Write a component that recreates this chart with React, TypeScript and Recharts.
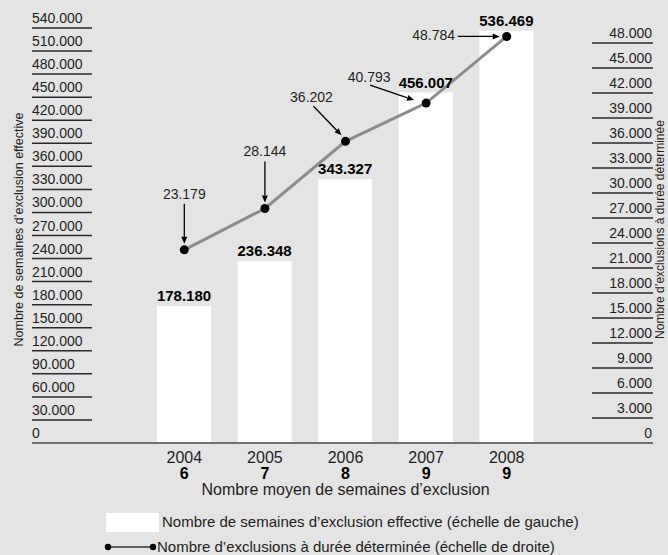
import { ComposedChart, Bar, Line, XAxis, YAxis, LabelList } from 'recharts';

const years = ['2004', '2005', '2006', '2007', '2008'];
const avgWeeks = [6, 7, 8, 9, 9];
const weeksExcluded = [178180, 236348, 343327, 456007, 536469];
const fixedTermExclusions = [23179, 28144, 36202, 40793, 48784];

const leftTicks = [
  0, 30000, 60000, 90000, 120000, 150000, 180000, 210000, 240000, 270000,
  300000, 330000, 360000, 390000, 420000, 450000, 480000, 510000, 540000,
];
const rightTicks = [
  0, 3000, 6000, 9000, 12000, 15000, 18000, 21000, 24000, 27000, 30000,
  33000, 36000, 39000, 42000, 45000, 48000,
];

const data = years.map((year, i) => ({
  year,
  avg: avgWeeks[i],
  weeks: weeksExcluded[i],
  exclusions: fixedTermExclusions[i],
}));

// callout placement relative to each line point (label centre/baseline, arrow start -> tip)
const CALLOUTS = [
  { lx: 0, ly: -51, x1: 0, y1: -46, x2: 0, y2: -6 },
  { lx: 0, ly: -52, x1: 0, y1: -47, x2: 0, y2: -6 },
  { lx: -34, ly: -39, x1: -32, y1: -35, x2: -4, y2: -6 },
  { lx: -57, ly: -21, x1: -56, y1: -18, x2: -12, y2: -3 },
  { lx: -73, ly: 4, x1: -49, y1: 0, x2: -7, y2: 0 },
];

const FONT = '"Liberation Sans", Arial, sans-serif';
const BG = '#e3e4e3';
const TEXT = '#1e1e1e';
const PLOT_LEFT = 32;
const PLOT_RIGHT = 653;

/** 540000 -> "540.000" */
function fmt(n: number): string {
  return String(n).replace(/\B(?=(\d{3})+(?!\d))/g, '.');
}

function LeftTick({ y, payload }: any) {
  return (
    <g>
      <text x={PLOT_LEFT} y={y - 5} fontSize={14} fill={TEXT} fontFamily={FONT}>
        {fmt(payload.value)}
      </text>
      {payload.value > 0 && (
        <line x1={PLOT_LEFT} x2={PLOT_LEFT + 60} y1={y} y2={y} stroke="#2a2a2a" strokeWidth={1.5} />
      )}
    </g>
  );
}

function RightTick({ y, payload }: any) {
  return (
    <g>
      <text x={PLOT_RIGHT - 1} y={y - 5} fontSize={14} fill={TEXT} fontFamily={FONT} textAnchor="end">
        {fmt(payload.value)}
      </text>
      {payload.value > 0 && (
        <line x1={PLOT_RIGHT - 61} x2={PLOT_RIGHT} y1={y} y2={y} stroke="#2a2a2a" strokeWidth={1.5} />
      )}
    </g>
  );
}

function YearTick({ x, y, payload, index }: any) {
  return (
    <g>
      <text x={x} y={y + 20} textAnchor="middle" fontSize={16} fill={TEXT} fontFamily={FONT}>
        {payload.value}
      </text>
      <text x={x} y={y + 36} textAnchor="middle" fontSize={16} fontWeight="bold" fill="#000" fontFamily={FONT}>
        {avgWeeks[index]}
      </text>
    </g>
  );
}

function Callout(props: any) {
  const { x, y, value, index } = props;
  const c = CALLOUTS[index];
  if (!c) return null;
  const ax = x + c.x1;
  const ay = y + c.y1;
  const tx = x + c.x2;
  const ty = y + c.y2;
  const len = Math.hypot(tx - ax, ty - ay) || 1;
  const ux = (tx - ax) / len;
  const uy = (ty - ay) / len;
  const hl = 7;
  const hw = 3;
  const bx = tx - ux * hl;
  const by = ty - uy * hl;
  const head = `${tx},${ty} ${bx - uy * hw},${by + ux * hw} ${bx + uy * hw},${by - ux * hw}`;
  return (
    <g>
      <text x={x + c.lx} y={y + c.ly} textAnchor="middle" fontSize={14} fill={TEXT} fontFamily={FONT}>
        {fmt(value)}
      </text>
      <line x1={ax} y1={ay} x2={bx} y2={by} stroke="#000" strokeWidth={1.3} />
      <polygon points={head} fill="#000" />
    </g>
  );
}

export default function App() {
  return (
    <div
      style={{
        position: 'absolute',
        left: 0,
        top: 0,
        width: 668,
        height: 555,
        background: BG,
        fontFamily: FONT,
        overflow: 'hidden',
      }}
    >
      <ComposedChart
        width={668}
        height={555}
        data={data}
        margin={{ top: 28, right: 14, left: 31, bottom: 82 }}
      >
        <XAxis
          dataKey="year"
          height={30}
          interval={0}
          tickSize={0}
          tickMargin={0}
          tickLine={false}
          axisLine={{ stroke: '#707070', strokeWidth: 2 }}
          padding={{ left: 112, right: 106 }}
          tick={<YearTick />}
          label={({ viewBox }: any) => (
            <text
              x={viewBox.x + viewBox.width / 2 + 3}
              y={viewBox.y + 52}
              textAnchor="middle"
              fontSize={16}
              fill={TEXT}
              fontFamily={FONT}
            >
              Nombre moyen de semaines d’exclusion
            </text>
          )}
        />
        <YAxis
          yAxisId="left"
          width={1}
          domain={[0, 540000]}
          ticks={leftTicks}
          interval={0}
          axisLine={false}
          tickLine={false}
          tick={<LeftTick />}
          label={({ viewBox }: any) => {
            const cx = viewBox.x - 12;
            const cy = viewBox.y + viewBox.height / 2 - 6;
            return (
              <text
                x={cx}
                y={cy}
                transform={`rotate(-90 ${cx} ${cy})`}
                textAnchor="middle"
                dominantBaseline="central"
                fontSize={12.5}
                fill={TEXT}
                fontFamily={FONT}
              >
                Nombre de semaines d’exclusion effective
              </text>
            );
          }}
        />
        <YAxis
          yAxisId="right"
          orientation="right"
          width={1}
          domain={[0, 49800]}
          ticks={rightTicks}
          interval={0}
          axisLine={false}
          tickLine={false}
          tick={<RightTick />}
          label={({ viewBox }: any) => {
            const cx = viewBox.x + 7;
            const cy = viewBox.y + viewBox.height / 2 - 6;
            return (
              <text
                x={cx}
                y={cy}
                transform={`rotate(-90 ${cx} ${cy})`}
                textAnchor="middle"
                dominantBaseline="central"
                fontSize={12}
                fill={TEXT}
                fontFamily={FONT}
              >
                Nombre d’exclusions à durée déterminée
              </text>
            );
          }}
        />
        <Bar yAxisId="left" dataKey="weeks" fill="#ffffff" barSize={54} isAnimationActive={false}>
          <LabelList
            dataKey="weeks"
            position="top"
            offset={5}
            formatter={(v: any) => fmt(v)}
            style={{ fontSize: 15, fontWeight: 'bold', fill: '#000', fontFamily: FONT }}
          />
        </Bar>
        <Line
          yAxisId="right"
          dataKey="exclusions"
          stroke="#8c8c8c"
          strokeWidth={3}
          dot={{ r: 4.5, fill: '#000', stroke: 'none' }}
          activeDot={false}
          isAnimationActive={false}
        >
          <LabelList dataKey="exclusions" content={<Callout />} />
        </Line>
      </ComposedChart>

      {/* legend */}
      <div style={{ position: 'absolute', left: 106, top: 513, width: 53, height: 19, background: '#fff' }} />
      <div
        style={{
          position: 'absolute',
          left: 162,
          top: 512,
          fontSize: 15,
          lineHeight: '20px',
          color: TEXT,
          whiteSpace: 'nowrap',
        }}
      >
        Nombre de semaines d’exclusion effective (échelle de gauche)
      </div>
      <svg style={{ position: 'absolute', left: 100, top: 538 }} width={60} height={18}>
        <line x1={8} x2={53} y1={9} y2={9} stroke="#333" strokeWidth={1.5} />
        <circle cx={8} cy={9} r={3.2} fill="#000" />
        <circle cx={53} cy={9} r={3.2} fill="#000" />
      </svg>
      <div
        style={{
          position: 'absolute',
          left: 157,
          top: 537,
          fontSize: 15,
          lineHeight: '20px',
          color: TEXT,
          whiteSpace: 'nowrap',
        }}
      >
        Nombre d’exclusions à durée déterminée (échelle de droite)
      </div>
    </div>
  );
}
